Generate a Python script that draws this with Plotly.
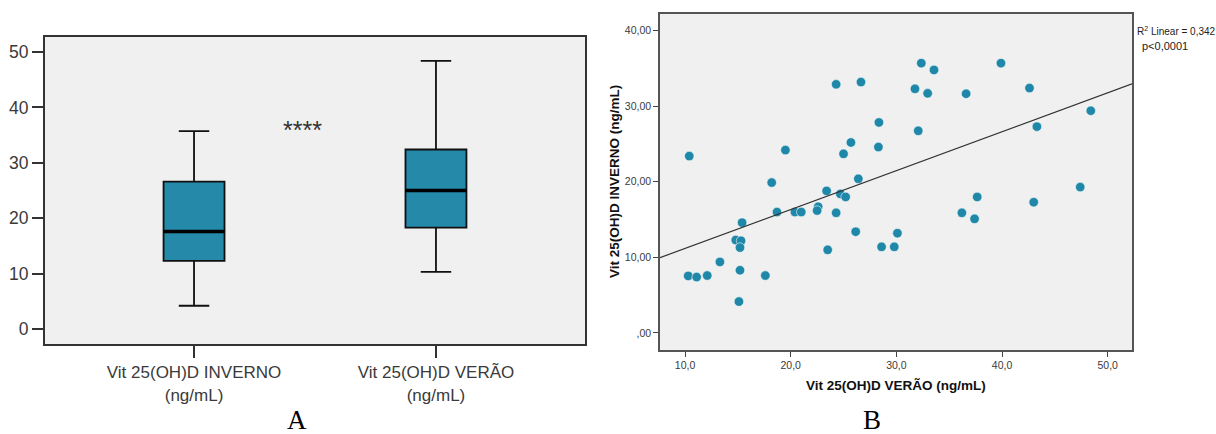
import numpy as np
import plotly.graph_objects as go

# ---------------- Data ----------------
# Panel A: box plot summary statistics
box_categories = ["Vit 25(OH)D INVERNO<br>(ng/mL)", "Vit 25(OH)D VERÃO<br>(ng/mL)"]
box_positions = [0, 1]
box_lower = [4.2, 10.3]
box_q1 = [12.3, 18.3]
box_median = [17.6, 25.0]
box_q3 = [26.6, 32.4]
box_upper = [35.7, 48.4]
box_yticks = [0, 10, 20, 30, 40, 50]
signif_label = "****"

# Panel B: scatter (x = VERÃO, y = INVERNO)
x_verao = [10.4, 19.5, 24.3, 26.65, 28.35, 25.7, 25.0, 28.3,
           32.36, 33.56, 39.9, 31.76, 32.96, 36.6, 42.6, 32.07, 43.3, 48.4,
           18.2, 26.4, 23.4, 24.7, 25.2, 22.6, 22.5, 18.7, 20.4, 21.0, 24.3,
           15.4, 26.15, 30.1, 14.8, 15.3, 15.2, 23.5, 28.6, 29.8, 13.3, 15.2,
           10.3, 11.1, 12.1, 17.6, 15.1,
           47.4, 37.65, 36.2, 37.4, 43.0]
y_inverno = [23.4, 24.2, 32.9, 33.2, 27.85, 25.2, 23.7, 24.6,
             35.7, 34.8, 35.7, 32.3, 31.7, 31.65, 32.4, 26.75, 27.3, 29.4,
             19.9, 20.4, 18.8, 18.4, 18.0, 16.7, 16.2, 16.0, 16.0, 16.0, 15.9,
             14.6, 13.4, 13.2, 12.3, 12.2, 11.3, 11.0, 11.4, 11.4, 9.4, 8.3,
             7.55, 7.4, 7.6, 7.6, 4.15,
             19.3, 18.0, 15.9, 15.1, 17.3]
sc_xticks = [10, 20, 30, 40, 50]
sc_xticktext = ["10,0", "20,0", "30,0", "40,0", "50,0"]
sc_yticks = [0, 10, 20, 30, 40]
sc_yticktext = [",00", "10,00", "20,00", "30,00", "40,00"]
r2_text = "R<sup>2</sup> Linear = 0,342"
p_text = "p<0,0001"

# ---------------- Styles ----------------
BOX_FILL = "#2589AA"
DOT = "#1F88A8"
BG = "#F0F0F0"
box_w = 0.252
sc_xrange = [7.63, 52.3]
SANS = "Arial, Liberation Sans, sans-serif"

fig = go.Figure()

# Panel A boxes
fig.add_trace(go.Box(
    x=box_positions, q1=box_q1, median=box_median, q3=box_q3,
    lowerfence=box_lower, upperfence=box_upper,
    width=box_w, whiskerwidth=0.5,
    fillcolor=BOX_FILL, line=dict(color="#111111", width=1.8),
    xaxis="x", yaxis="y", showlegend=False, hoverinfo="skip"))

# thick median lines
mx, my = [], []
for c, m in zip(box_positions, box_median):
    mx += [c - box_w / 2, c + box_w / 2, None]
    my += [m, m, None]
fig.add_trace(go.Scatter(x=mx, y=my, mode="lines",
                         line=dict(color="#000000", width=3.5),
                         xaxis="x", yaxis="y", showlegend=False, hoverinfo="skip"))

# Panel B scatter
fig.add_trace(go.Scatter(x=x_verao, y=y_inverno, mode="markers",
                         marker=dict(color=DOT, size=9.5, line=dict(color="#F4F8FA", width=0.6)),
                         xaxis="x2", yaxis="y2", showlegend=False))

# Regression line (least squares on the data)
slope, intercept = np.polyfit(x_verao, y_inverno, 1)
lx = np.array(sc_xrange)
fig.add_trace(go.Scatter(x=lx, y=intercept + slope * lx, mode="lines",
                         line=dict(color="#333333", width=1.2),
                         xaxis="x2", yaxis="y2", showlegend=False, hoverinfo="skip"))

axis_font = dict(family=SANS, color="#3a3a3a")

fig.update_layout(
    width=1216, height=434,
    margin=dict(l=0, r=0, t=0, b=0),
    paper_bgcolor="white", plot_bgcolor=BG,
    showlegend=False,
    xaxis=dict(domain=[45 / 1216, 585 / 1216], anchor="y",
               range=[-0.616, 1.616], tickvals=box_positions, ticktext=box_categories,
               ticks="outside", ticklen=12, tickwidth=2, tickcolor="#333333",
               showline=True, linewidth=2, linecolor="#333333", mirror=True,
               showgrid=False, zeroline=False,
               tickfont=dict(size=17, **axis_font)),
    yaxis=dict(domain=[1 - 344 / 434, 1 - 37 / 434], anchor="x",
               range=[-2.7, 52.7], tickvals=box_yticks,
               ticks="outside", ticklen=11, tickwidth=2, tickcolor="#333333",
               showline=True, linewidth=2, linecolor="#333333", mirror=True,
               showgrid=False, zeroline=False,
               tickfont=dict(size=17.5, **axis_font)),
    xaxis2=dict(domain=[660 / 1216, 1132 / 1216], anchor="y2",
                range=sc_xrange, tickvals=sc_xticks, ticktext=sc_xticktext,
                ticks="outside", ticklen=5, tickwidth=1.3, tickcolor="#444444",
                showline=True, linewidth=1.5, linecolor="#555555", mirror=True,
                showgrid=False, zeroline=False,
                tickfont=dict(size=10.5, **axis_font)),
    yaxis2=dict(domain=[1 - 350 / 434, 1 - 14 / 434], anchor="x2",
                range=[-2.25, 42.2], tickvals=sc_yticks, ticktext=sc_yticktext,
                ticks="outside", ticklen=5, tickwidth=1.3, tickcolor="#444444",
                showline=True, linewidth=1.5, linecolor="#555555", mirror=True,
                showgrid=False, zeroline=False,
                tickfont=dict(size=10.5, **axis_font)),
)

annotations = [
    dict(text=signif_label, x=0.45, y=36.0, xref="x", yref="y", showarrow=False,
         xanchor="center", yanchor="middle",
         font=dict(size=25, family=SANS, color="#333333")),
    dict(text="Vit 25(OH)D VERÃO (ng/mL)", x=896 / 1216, y=1 - 385 / 434,
         xref="paper", yref="paper", showarrow=False, xanchor="center", yanchor="middle",
         font=dict(size=13.5, family=SANS, color="#111111", weight="bold")),
    dict(text="Vit 25(OH)D INVERNO (ng/mL)", x=614 / 1216, y=1 - 182 / 434,
         xref="paper", yref="paper", showarrow=False, textangle=-90,
         xanchor="center", yanchor="middle",
         font=dict(size=13.5, family=SANS, color="#111111", weight="bold")),
    dict(text=r2_text, x=1135 / 1216, y=1 - 31 / 434, xref="paper", yref="paper",
         showarrow=False, xanchor="left", yanchor="middle",
         font=dict(size=10, family=SANS, color="#222222")),
    dict(text=p_text, x=1140 / 1216, y=1 - 46 / 434, xref="paper", yref="paper",
         showarrow=False, xanchor="left", yanchor="middle",
         font=dict(size=11, family=SANS, color="#222222")),
    dict(text="A", x=297 / 1216, y=-3 / 434, xref="paper", yref="paper",
         showarrow=False, xanchor="center", yanchor="bottom",
         font=dict(size=27, family="Liberation Serif, Times New Roman, serif", color="#000000")),
    dict(text="B", x=872 / 1216, y=-3 / 434, xref="paper", yref="paper",
         showarrow=False, xanchor="center", yanchor="bottom",
         font=dict(size=27, family="Liberation Serif, Times New Roman, serif", color="#000000")),
]
fig.update_layout(annotations=annotations)

fig.write_html("out.html")
